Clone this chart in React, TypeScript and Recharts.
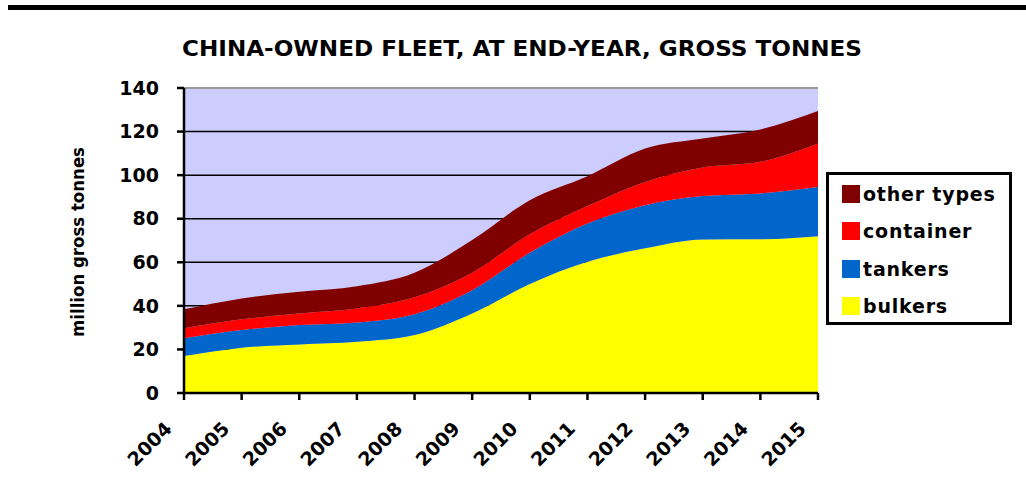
import { AreaChart, Area, XAxis, YAxis, CartesianGrid, Legend, ReferenceLine, Label } from 'recharts'

const YEARS = ['2004', '2005', '2006', '2007', '2008', '2009', '2010', '2011', '2012', '2013', '2014', '2015']
const BULKERS = [17, 20.8, 22.3, 23.5, 26.6, 36.5, 50, 60.2, 66.4, 70.5, 70.6, 72]
const TANKERS = [8.1, 8.1, 8.9, 8.9, 9.6, 10.7, 14.4, 17.6, 19.8, 19.9, 21, 22.6]
const CONTAINER = [4.6, 4.9, 5.3, 6.4, 7.7, 8, 8.5, 8, 10.7, 13.1, 14.5, 19.9]
const OTHER_TYPES = [8.7, 9.6, 10, 10.2, 11.3, 15, 15.6, 13.7, 15.3, 13.3, 14.9, 15]
const Y_TICKS = [0, 20, 40, 60, 80, 100, 120, 140]

const SERIES = [
  { key: 'bulkers', label: 'bulkers', color: '#ffff00' },
  { key: 'tankers', label: 'tankers', color: '#0066cc' },
  { key: 'container', label: 'container', color: '#ff0000' },
  { key: 'other', label: 'other types', color: '#800000' },
]

const data = YEARS.map((year, i) => ({
  year,
  bulkers: BULKERS[i],
  tankers: TANKERS[i],
  container: CONTAINER[i],
  other: OTHER_TYPES[i],
}))

const FONT = '"DejaVu Sans", sans-serif'

function YearTick({ x, y, payload }: any) {
  const ax = x - 11
  const ay = y + 28
  return (
    <text
      x={ax}
      y={ay}
      textAnchor="end"
      transform={`rotate(-45, ${ax}, ${ay})`}
      fontFamily={FONT}
      fontWeight="bold"
      fontSize={19}
      fill="#000"
    >
      {payload.value}
    </text>
  )
}

function LegendBox() {
  const rows = [...SERIES].reverse()
  return (
    <div
      style={{
        boxSizing: 'border-box',
        width: 186,
        height: 153,
        border: '3px solid #000',
        background: '#fff',
        paddingTop: 0,
        paddingLeft: 13,
      }}
    >
      {rows.map(s => (
        <div key={s.key} style={{ display: 'flex', alignItems: 'center', height: 37.5 }}>
          <span style={{ width: 18, height: 18, background: s.color, marginRight: 3 }} />
          <span style={{ fontFamily: FONT, fontWeight: 'bold', fontSize: 19, letterSpacing: 0.8, color: '#000' }}>
            {s.label}
          </span>
        </div>
      ))}
    </div>
  )
}

export default function App() {
  return (
    <div style={{ position: 'absolute', left: 0, top: 0, width: 1026, height: 485, background: '#fff' }}>
      <svg width={1026} height={70} style={{ position: 'absolute', left: 0, top: 0 }}>
        <rect x={8} y={5} width={1018} height={5} fill="#000" />
        <text
          x={522}
          y={56}
          textAnchor="middle"
          textLength={680}
          lengthAdjust="spacingAndGlyphs"
          fontFamily={FONT}
          fontWeight="bold"
          fontSize={21}
          fill="#000"
        >
          CHINA-OWNED FLEET, AT END-YEAR, GROSS TONNES
        </text>
      </svg>
      <AreaChart
        width={1026}
        height={485}
        data={data}
        margin={{ top: 88, right: 208, left: 0, bottom: 0 }}
        style={{ position: 'absolute', left: 0, top: 0 }}
      >
        <CartesianGrid vertical={false} stroke="#000" strokeWidth={1.5} fill="#ccccff" fillOpacity={1} />
        <XAxis
          dataKey="year"
          height={92}
          tick={<YearTick />}
          tickSize={7}
          interval={0}
          axisLine={{ stroke: '#000', strokeWidth: 2.5 }}
          tickLine={{ stroke: '#000', strokeWidth: 2.5 }}
        />
        <YAxis
          width={184}
          domain={[0, 140]}
          ticks={Y_TICKS}
          tickSize={7}
          tickMargin={18}
          axisLine={{ stroke: '#000', strokeWidth: 2.5 }}
          tickLine={{ stroke: '#000', strokeWidth: 2.5 }}
          tick={{ fill: '#000', fontFamily: FONT, fontWeight: 'bold', fontSize: 19 }}
        >
          <Label
            content={() => (
              <text
                x={84}
                y={242}
                textAnchor="middle"
                transform="rotate(-90, 84, 242)"
                textLength={190}
                lengthAdjust="spacingAndGlyphs"
                fontFamily={FONT}
                fontWeight="bold"
                fontSize={18}
                fill="#000"
              >
                million gross tonnes
              </text>
            )}
          />
        </YAxis>
        {SERIES.map(s => (
          <Area
            key={s.key}
            type="monotone"
            dataKey={s.key}
            name={s.label}
            stackId="fleet"
            stroke="none"
            fill={s.color}
            fillOpacity={1}
            isAnimationActive={false}
          />
        ))}
        <ReferenceLine y={140} stroke="#999" strokeWidth={2} />
        <Legend
          layout="horizontal"
          align="center"
          verticalAlign="middle"
          content={() => <LegendBox />}
          wrapperStyle={{ left: 826, top: 172, width: 186, height: 153 }}
        />
      </AreaChart>
    </div>
  )
}
